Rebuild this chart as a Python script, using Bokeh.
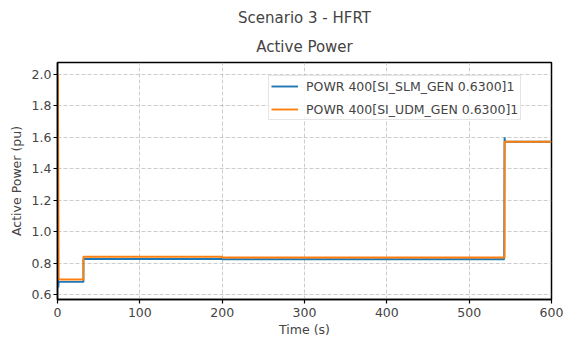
from bokeh.plotting import figure
from bokeh.models import Title, FixedTicker, Legend, LegendItem, Range1d, PrintfTickFormatter
from bokeh.embed import file_html
from bokeh.resources import INLINE

# Series data (step-shaped time series)
slm_time = [0, 1.0, 1.5, 31.5, 31.5, 200, 200, 542.5, 543, 543.5, 600]
slm_power = [0.87, 0.645, 0.68, 0.68, 0.826, 0.826, 0.824, 0.824, 1.60, 1.572, 1.572]

udm_time = [0, 0.5, 1.5, 31.5, 31.5, 200, 200, 543, 543, 600]
udm_power = [2.0, 2.0, 0.695, 0.695, 0.84, 0.84, 0.835, 0.835, 1.572, 1.572]

slm_label = "POWR 400[SI_SLM_GEN 0.6300]1"
udm_label = "POWR 400[SI_UDM_GEN 0.6300]1"

x_ticks = [0, 100, 200, 300, 400, 500, 600]
y_ticks = [0.6, 0.8, 1.0, 1.2, 1.4, 1.6, 1.8, 2.0]

FONT = "DejaVu Sans"
SMALL = "12.5px"
BIG = "15px"

p = figure(width=564, height=339, output_backend="svg", toolbar_location=None,
           x_range=Range1d(0, 600), y_range=Range1d(0.568, 2.076),
           min_border_left=57, min_border_right=13, min_border_top=62, min_border_bottom=39)

p.title.text = "Scenario 3 - HFRT"
p.title.align = "center"
p.title.text_font = FONT
p.title.text_font_size = BIG
p.title.text_font_style = "normal"
p.title.standoff = 6
p.add_layout(Title(text="Active Power", align="center", text_font=FONT,
                   text_font_size=BIG, text_font_style="normal", standoff=13), "above")

r1 = p.line(slm_time, slm_power, line_color="#1f77b4", line_width=1.9)
r2 = p.line(udm_time, udm_power, line_color="#ff7f0e", line_width=1.9)

legend = Legend(items=[LegendItem(label=slm_label, renderers=[r1]),
                       LegendItem(label=udm_label, renderers=[r2])],
                location=(211, 179))
legend.label_text_font = FONT
legend.label_text_font_size = SMALL
legend.border_line_color = "#cccccc"
legend.border_line_width = 1
legend.background_fill_alpha = 0.85
legend.glyph_width = 27
legend.glyph_height = 16
legend.label_height = 16
legend.label_standoff = 8
legend.spacing = 7
legend.padding = 2
legend.margin = 0
p.add_layout(legend)

p.xaxis.ticker = FixedTicker(ticks=x_ticks)
p.yaxis.ticker = FixedTicker(ticks=y_ticks)
p.yaxis.formatter = PrintfTickFormatter(format="%.1f")
p.xaxis.axis_label = "Time (s)"
p.yaxis.axis_label = "Active Power (pu)"
for ax in (p.xaxis, p.yaxis):
    ax.axis_label_text_font = FONT
    ax.axis_label_text_font_size = SMALL
    ax.axis_label_text_font_style = "normal"
    ax.major_label_text_font = FONT
    ax.major_label_text_font_size = SMALL
    ax.axis_line_color = "black"
    ax.axis_line_width = 1.5
    ax.major_tick_line_color = "black"
    ax.major_tick_line_width = 1.2
    ax.major_tick_in = 0
    ax.major_tick_out = 4
    ax.minor_tick_line_color = None
p.xaxis.axis_label_standoff = 2
p.xaxis.major_label_standoff = 4
p.yaxis.axis_label_standoff = 5
p.yaxis.major_label_standoff = 2

p.outline_line_color = "black"
p.outline_line_width = 1.5
p.grid.grid_line_color = "#b8b8b8"
p.grid.grid_line_dash = "4 2"
p.grid.grid_line_width = 0.7

open("out.html", "w").write(file_html(p, INLINE))
